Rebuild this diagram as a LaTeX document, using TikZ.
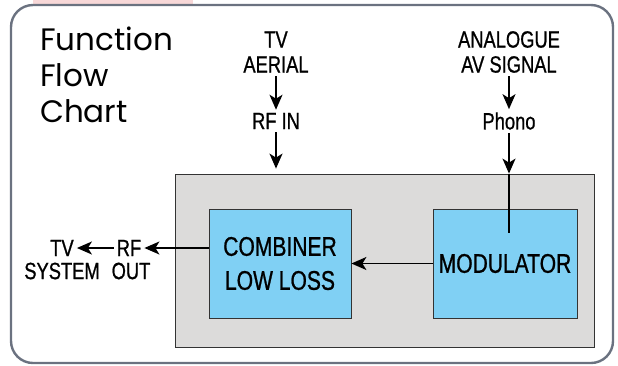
\documentclass[tikz,border=0pt]{standalone}
\usepackage{fontspec}
\newfontfamily\condfont[FakeStretch=0.78, FakeBold=0.8]{Liberation Sans}
\newfontfamily\titlefont{Poppins}
\usetikzlibrary{arrows.meta,positioning}
\definecolor{framegray}{HTML}{6B7280}
\definecolor{boxgray}{HTML}{DCDBDA}
\definecolor{boxblue}{HTML}{80D0F4}
\definecolor{tabpink}{HTML}{F8D8D8}
\begin{document}
\begin{tikzpicture}[x=1pt, y=-1pt,
	lbl/.style = {font=\condfont\fontsize{23.5}{25}\selectfont, align=center, inner sep=3pt},
	unit/.style = {draw=black!80, fill=boxblue, line width=0.8pt, minimum width=142pt, minimum height=109pt, align=center, font=\condfont\fontsize{27}{34}\selectfont},
	flow/.style = {-{Stealth[length=15pt, width=13pt, inset=4pt]}, line width=1.6pt}]
	\useasboundingbox (0,0) rectangle (618,365);
	\fill [tabpink] (33,0) rectangle (193,5);
	\draw [framegray, line width=2.4pt, rounded corners=22pt] (11,5) rectangle (613,363);
	\node [anchor=north west, inner sep=0, align=left, font=\titlefont\fontsize{31}{36}\selectfont] (title) at (40,27) {Function\\Flow\\Chart};
	% the unit
	\node [draw=black!80, fill=boxgray, line width=0.8pt, minimum width=419pt, minimum height=173pt] (housing) at (384.5,260.5) {};
	\node [unit] (combiner) at (280,263.5) {COMBINER\\LOW LOSS};
	\node [unit, minimum width=144pt] (modulator) at (505,263.5) {MODULATOR};
	% inputs
	\node [lbl] (aerial) at (276,52) {TV\\AERIAL};
	\node [lbl] (rfin) at (276,121) {RF IN};
	\node [lbl] (analogue) at (509,52) {ANALOGUE\\AV SIGNAL};
	\node [lbl] (phono) at (509,121) {Phono};
	\coordinate (feed) at (phono |- 0,233);
	\draw [flow] (aerial) -- (rfin);
	\draw [flow, shorten >=5pt] (rfin) -- (rfin |- housing.north);
	\draw [flow] (analogue) -- (phono);
	\draw [flow] (phono) -- (phono |- housing.north);
	\draw [line width=1.6pt] (phono |- housing.north) -- (feed);
	% outputs
	\node [lbl] (rf) at (129,248) {RF};
	\node [lbl] (out) at (131,271) {OUT};
	\node [lbl] (tv) at (62,248) {TV};
	\node [lbl] (system) at (62,271) {SYSTEM};
	\draw [flow] (modulator) -- (combiner);
	\draw [flow] (combiner.west |- rf) -- (rf);
	\draw [flow] (rf) -- (tv);
\end{tikzpicture}
\end{document}
